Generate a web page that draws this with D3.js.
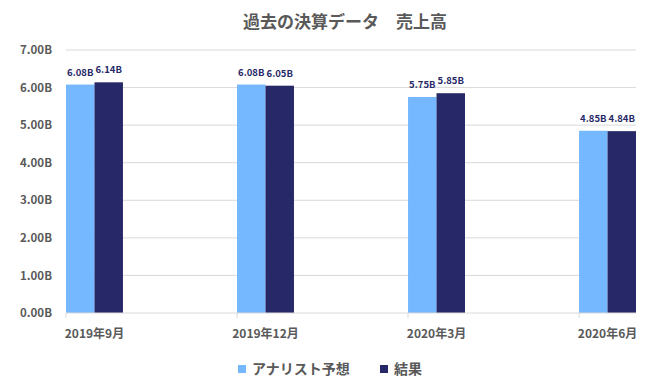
<!DOCTYPE html>
<html>
<head>
<meta charset="utf-8">
<script src="https://cdn.jsdelivr.net/npm/d3@7"></script>
<style>
  body { margin: 0; background: #fff; }
  text { font-family: "Noto Sans CJK JP", "Noto Sans", sans-serif; }
</style>
</head>
<body>
<script>
// chart data
var categories = ["2019年9月", "2019年12月", "2020年3月", "2020年6月"];
var seriesNames = ["アナリスト予想", "結果"];
var forecast = [6.08, 6.08, 5.75, 4.85];
var actual = [6.14, 6.05, 5.85, 4.84];
var yTicks = [0, 1, 2, 3, 4, 5, 6, 7];
var colors = ["#75b8ff", "#262868"];

var width = 659, height = 387;
var plotLeft = 66, plotRight = 636, plotTop = 50, plotBottom = 313;

var svg = d3.select("body").append("svg")
  .attr("width", width)
  .attr("height", height);

// title
svg.append("text")
  .attr("x", 345).attr("y", 28)
  .attr("text-anchor", "middle")
  .style("font-size", "17px").style("font-weight", "bold")
  .style("fill", "#595959")
  .text("過去の決算データ　売上高");

var y = d3.scaleLinear().domain([0, 7]).range([plotBottom, plotTop]);

var x = d3.scaleBand().domain(categories)
  .range([plotLeft, plotRight])
  .paddingInner(0.667).paddingOuter(0);

var x1 = d3.scaleBand().domain(seriesNames).range([0, x.bandwidth()]);

// gridlines
svg.selectAll(".grid")
  .data(yTicks.slice(1))
  .enter().append("line")
  .attr("x1", plotLeft).attr("x2", plotRight)
  .attr("y1", function(d) { return y(d); })
  .attr("y2", function(d) { return y(d); })
  .style("stroke", "#d9d9d9").style("stroke-width", 1);

// y axis labels
var yAxis = d3.axisLeft(y).tickValues(yTicks)
  .tickFormat(function(d) { return d.toFixed(2) + "B"; })
  .tickSize(0).tickPadding(14);
var gy = svg.append("g").attr("transform", "translate(" + plotLeft + ",0)").call(yAxis);
gy.select(".domain").remove();
gy.selectAll("text")
  .style("font-size", "11.5px").style("font-weight", "bold").style("fill", "#595959");

// bars
var rows = categories.map(function(c, i) {
  return { cat: c, vals: [forecast[i], actual[i]] };
});

var groups = svg.selectAll(".grp")
  .data(rows)
  .enter().append("g")
  .attr("transform", function(d) { return "translate(" + x(d.cat) + ",0)"; });

groups.selectAll("rect")
  .data(function(d) { return d.vals.map(function(v, j) { return { name: seriesNames[j], v: v, j: j }; }); })
  .enter().append("rect")
  .attr("x", function(d) { return x1(d.name); })
  .attr("width", x1.bandwidth())
  .attr("y", function(d) { return y(d.v); })
  .attr("height", function(d) { return plotBottom - y(d.v); })
  .style("fill", function(d) { return colors[d.j]; });

groups.selectAll(".lbl")
  .data(function(d) { return d.vals.map(function(v, j) { return { name: seriesNames[j], v: v }; }); })
  .enter().append("text")
  .attr("x", function(d) { return x1(d.name) + x1.bandwidth() / 2; })
  .attr("y", function(d) { return y(d.v) - 9; })
  .attr("text-anchor", "middle")
  .style("font-size", "9.5px").style("font-weight", "bold")
  .style("fill", "#262868")
  .text(function(d) { return d.v.toFixed(2) + "B"; });

// x axis
var xAxis = d3.axisBottom(x).tickSize(0).tickPadding(16);
var gx = svg.append("g").attr("transform", "translate(0," + plotBottom + ")").call(xAxis);
gx.select(".domain").remove();
gx.selectAll("text")
  .style("font-size", "12px").style("font-weight", "bold").style("fill", "#595959");

svg.append("line")
  .attr("x1", plotLeft).attr("x2", plotRight)
  .attr("y1", plotBottom).attr("y2", plotBottom)
  .style("stroke", "#d9d9d9");

svg.selectAll(".tick-m")
  .data(categories)
  .enter().append("line")
  .attr("x1", function(d) { return x(d); })
  .attr("x2", function(d) { return x(d); })
  .attr("y1", plotBottom).attr("y2", plotBottom + 5)
  .style("stroke", "#d9d9d9");

// legend
var legendX = [238, 380];
var legend = svg.selectAll(".leg")
  .data(seriesNames)
  .enter().append("g")
  .attr("transform", function(d, i) { return "translate(" + legendX[i] + ",365)"; });
legend.append("rect")
  .attr("width", 8).attr("height", 8)
  .style("fill", function(d, i) { return colors[i]; });
legend.append("text")
  .attr("x", 14).attr("y", 9)
  .style("font-size", "14px").style("font-weight", "bold")
  .style("fill", "#595959")
  .text(function(d) { return d; });
</script>
</body>
</html>
